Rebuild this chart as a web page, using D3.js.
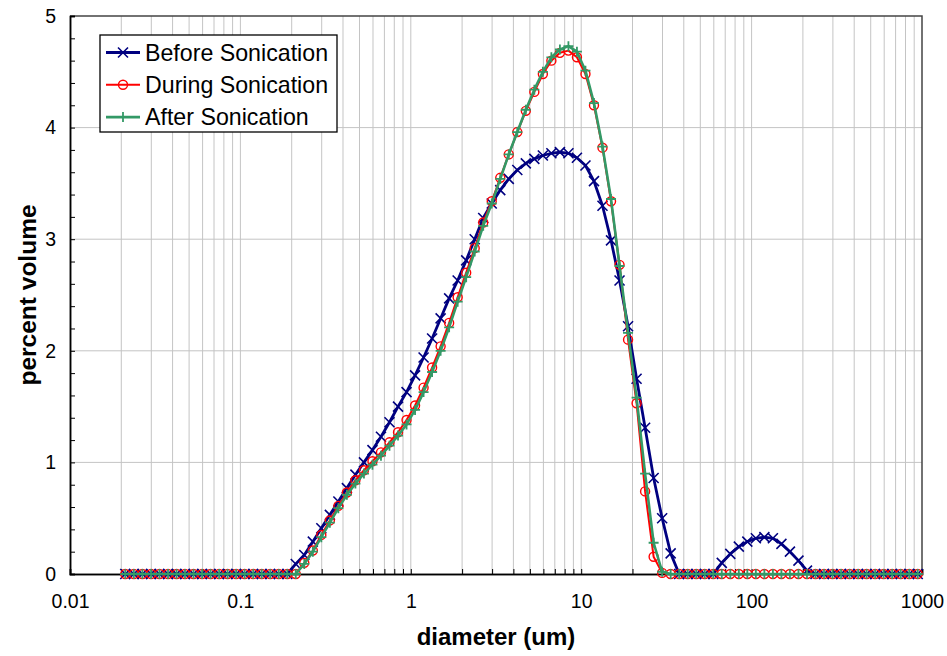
<!DOCTYPE html>
<html lang="en">
<head>
    <meta charset="UTF-8">
    <title>particle size distribution</title>
    <style>
        body { margin: 0; background: #fff; }
        text { font-family: "Liberation Sans", Arial, sans-serif; }
    </style>
</head>
<script src="https://d3js.org/d3.v7.min.js"></script>
<body>
<script>
    // size classes (um) of the analyser
    var sizes = [
        0.0211, 0.0237, 0.0266, 0.0299, 0.0335, 0.0376, 0.0422, 0.0473, 0.0531, 0.0596,
        0.0668, 0.0750, 0.0841, 0.0944, 0.1059, 0.1189, 0.1334, 0.1496, 0.1679, 0.1884,
        0.2113, 0.2371, 0.2661, 0.2985, 0.3350, 0.3758, 0.4217, 0.4732, 0.5309, 0.5957,
        0.6683, 0.7499, 0.8414, 0.9441, 1.0593, 1.1885, 1.3335, 1.4962, 1.6788, 1.8836,
        2.1135, 2.3714, 2.6607, 2.9854, 3.3497, 3.7584, 4.2170, 4.7315, 5.3088, 5.9566,
        6.6834, 7.4989, 8.4140, 9.4406, 10.593, 11.885, 13.335, 14.962, 16.788, 18.836,
        21.135, 23.714, 26.607, 29.854, 33.497, 37.584, 42.170, 47.315, 53.088, 59.566,
        66.834, 74.989, 84.140, 94.406, 105.93, 118.85, 133.35, 149.62, 167.88, 188.36,
        211.35, 237.14, 266.07, 298.54, 334.97, 375.84, 421.70, 473.15, 530.88, 595.66,
        668.34, 749.89, 841.40, 944.06
    ];

    var before = [
        0, 0, 0, 0, 0, 0, 0, 0, 0, 0,
        0, 0, 0, 0, 0, 0, 0, 0, 0, 0,
        0.09, 0.17, 0.29, 0.41, 0.53, 0.65, 0.77, 0.89, 1.00, 1.11,
        1.23, 1.36, 1.50, 1.63, 1.78, 1.94, 2.11, 2.29, 2.47, 2.63,
        2.81, 3.00, 3.19, 3.32, 3.44, 3.54, 3.62, 3.68, 3.72, 3.75,
        3.77, 3.78, 3.77, 3.73, 3.66, 3.52, 3.30, 2.99, 2.63, 2.22,
        1.75, 1.31, 0.86, 0.50, 0.185, 0, 0, 0, 0, 0,
        0.10, 0.18, 0.245, 0.29, 0.32, 0.33, 0.32, 0.27, 0.20, 0.12,
        0.03, 0, 0, 0, 0, 0, 0, 0, 0, 0,
        0, 0, 0, 0
    ];

    var during = [
        0, 0, 0, 0, 0, 0, 0, 0, 0, 0,
        0, 0, 0, 0, 0, 0, 0, 0, 0, 0,
        0, 0.10, 0.21, 0.35, 0.48, 0.61, 0.73, 0.84, 0.93, 1.01,
        1.09, 1.18, 1.27, 1.38, 1.51, 1.67, 1.85, 2.04, 2.25, 2.48,
        2.70, 2.92, 3.15, 3.34, 3.55, 3.76, 3.96, 4.15, 4.32, 4.48,
        4.60, 4.67, 4.69, 4.63, 4.48, 4.20, 3.82, 3.34, 2.77, 2.10,
        1.53, 0.74, 0.155, 0.01, 0, 0, 0, 0, 0, 0,
        0, 0, 0, 0, 0, 0, 0, 0, 0, 0,
        0, 0, 0, 0, 0, 0, 0, 0, 0, 0,
        0, 0, 0, 0
    ];

    var after = [
        0, 0, 0, 0, 0, 0, 0, 0, 0, 0,
        0, 0, 0, 0, 0, 0, 0, 0, 0, 0,
        0, 0.09, 0.20, 0.33, 0.46, 0.59, 0.71, 0.81, 0.90, 0.98,
        1.06, 1.15, 1.24, 1.34, 1.47, 1.63, 1.81, 2.00, 2.21, 2.44,
        2.66, 2.89, 3.12, 3.32, 3.54, 3.76, 3.96, 4.16, 4.34, 4.50,
        4.63, 4.70, 4.73, 4.68, 4.51, 4.22, 3.83, 3.36, 2.76, 2.16,
        1.58, 0.90, 0.28, 0.02, 0, 0, 0, 0, 0, 0,
        0, 0, 0, 0, 0, 0, 0, 0, 0, 0,
        0, 0, 0, 0, 0, 0, 0, 0, 0, 0,
        0, 0, 0, 0
    ];

    var xMajor = [0.01, 0.1, 1, 10, 100, 1000];
    var xLabels = ["0.01", "0.1", "1", "10", "100", "1000"];
    var yMajor = [0, 1, 2, 3, 4, 5];
    var seriesNames = ["Before Sonication", "During Sonication", "After Sonication"];

    var margin = {top: 16, right: 25, bottom: 82, left: 70},
        W = 947, H = 656,
        width = W - margin.left - margin.right,
        height = H - margin.top - margin.bottom;

    var svg = d3.select("body")
        .append("svg")
        .attr("width", W)
        .attr("height", H);

    var g = svg.append("g")
        .attr("transform", "translate(" + margin.left + "," + margin.top + ")");

    var x = d3.scaleLog().domain([0.01, 1000]).range([0, width]);
    var y = d3.scaleLinear().domain([0, 5]).range([height, 0]);

    // every 1..9 x 10^n position for the log grid
    var xMinor = [];
    xMajor.slice(0, -1).forEach(function (d) {
        for (var k = 2; k <= 9; k++) xMinor.push(d * k);
    });
    var yMinor = d3.range(0, 26).map(function (i) { return i / 5; })
        .filter(function (d) { return yMajor.indexOf(Math.round(d * 10) / 10) < 0; });

    // grid
    g.append("g").selectAll("line")
        .data(xMinor.concat(xMajor.slice(1, -1)))
        .enter().append("line")
        .attr("x1", function (d) { return x(d); })
        .attr("x2", function (d) { return x(d); })
        .attr("y1", 0).attr("y2", height)
        .attr("stroke", "#c4c4c4")
        .attr("stroke-width", 1);

    g.append("g").selectAll("line")
        .data(yMajor.slice(1, -1))
        .enter().append("line")
        .attr("x1", 0).attr("x2", width)
        .attr("y1", function (d) { return y(d); })
        .attr("y2", function (d) { return y(d); })
        .attr("stroke", "#c4c4c4")
        .attr("stroke-width", 1);

    // frame top/right
    g.append("path")
        .attr("d", "M0,0H" + width + "V" + height)
        .attr("fill", "none")
        .attr("stroke", "#444")
        .attr("stroke-width", 1.5);

    // x axis
    var xAxis = g.append("g")
        .attr("transform", "translate(0," + height + ")")
        .call(d3.axisBottom(x).tickValues(xMajor)
            .tickFormat(function (d, i) { return xLabels[i]; })
            .tickSize(-5).tickPadding(20));
    xAxis.append("g").call(d3.axisBottom(x).tickValues(xMinor)
        .tickFormat("").tickSize(-5));
    xAxis.selectAll(".domain").attr("stroke", "#000").attr("stroke-width", 1.5);
    xAxis.selectAll("text").attr("font-size", "19.5px").attr("fill", "#000")
        .style("font-family", "'Liberation Sans', Arial, sans-serif");

    // y axis
    var yAxis = g.append("g")
        .call(d3.axisLeft(y).tickValues(yMajor).tickSize(-5).tickPadding(14)
            .tickFormat(d3.format("d")));
    yAxis.append("g").call(d3.axisLeft(y).tickValues(yMinor)
        .tickFormat("").tickSize(-5));
    yAxis.selectAll(".domain").attr("stroke", "#000").attr("stroke-width", 1.5);
    yAxis.selectAll("text").attr("font-size", "19.5px").attr("fill", "#000")
        .style("font-family", "'Liberation Sans', Arial, sans-serif");

    // titles
    svg.append("text")
        .attr("x", margin.left + width / 2)
        .attr("y", 645)
        .attr("text-anchor", "middle")
        .attr("font-size", "24px")
        .attr("font-weight", "bold")
        .text("diameter (um)");

    svg.append("text")
        .attr("transform", "translate(36," + (margin.top + height / 2) + ") rotate(-90)")
        .attr("text-anchor", "middle")
        .attr("font-size", "24.5px")
        .attr("font-weight", "bold")
        .text("percent volume");

    // markers
    function cross(sel, c, s) {
        sel.append("path")
            .attr("d", "M" + (-s) + "," + (-s) + "L" + s + "," + s + "M" + (-s) + "," + s + "L" + s + "," + (-s))
            .attr("stroke", c).attr("stroke-width", 1.6).attr("fill", "none");
    }
    function ring(sel, c, s) {
        sel.append("circle").attr("r", s)
            .attr("stroke", c).attr("stroke-width", 1.4).attr("fill", "none");
    }
    function plus(sel, c, s) {
        sel.append("path")
            .attr("d", "M" + (-s) + ",0H" + s + "M0," + (-s) + "V" + s)
            .attr("stroke", c).attr("stroke-width", 1.8).attr("fill", "none");
    }

    var series = [
        {name: seriesNames[0], values: before, color: "#000080", width: 2.8, marker: cross, size: 5},
        {name: seriesNames[1], values: during, color: "#ff0000", width: 2, marker: ring, size: 4.5},
        {name: seriesNames[2], values: after, color: "#339966", width: 2.6, marker: plus, size: 5}
    ];

    var line = d3.line()
        .x(function (d) { return x(d[0]); })
        .y(function (d) { return y(d[1]); });

    series.forEach(function (s) {
        var pts = sizes.map(function (d, i) { return [d, s.values[i]]; });
        var sg = g.append("g");
        sg.append("path")
            .datum(pts)
            .attr("d", line)
            .attr("fill", "none")
            .attr("stroke", s.color)
            .attr("stroke-width", s.width)
            .attr("stroke-linejoin", "round");
        sg.selectAll("g.pt")
            .data(pts)
            .enter().append("g")
            .attr("class", "pt")
            .attr("transform", function (d) { return "translate(" + x(d[0]) + "," + y(d[1]) + ")"; })
            .each(function () { s.marker(d3.select(this), s.color, s.size); });
    });

    // legend
    var lg = svg.append("g").attr("transform", "translate(100,35)");
    lg.append("rect")
        .attr("width", 237).attr("height", 97)
        .attr("fill", "#fff").attr("stroke", "#000").attr("stroke-width", 1.3);
    series.forEach(function (s, i) {
        var row = lg.append("g").attr("transform", "translate(0," + (17.5 + i * 32.3) + ")");
        row.append("line")
            .attr("x1", 6).attr("x2", 40)
            .attr("stroke", s.color).attr("stroke-width", s.width);
        s.marker(row.append("g").attr("transform", "translate(23,0)"), s.color, s.size);
        row.append("text")
            .attr("x", 45).attr("dy", "0.36em")
            .attr("font-size", "23.2px")
            .text(s.name);
    });
</script>
</body>
</html>
